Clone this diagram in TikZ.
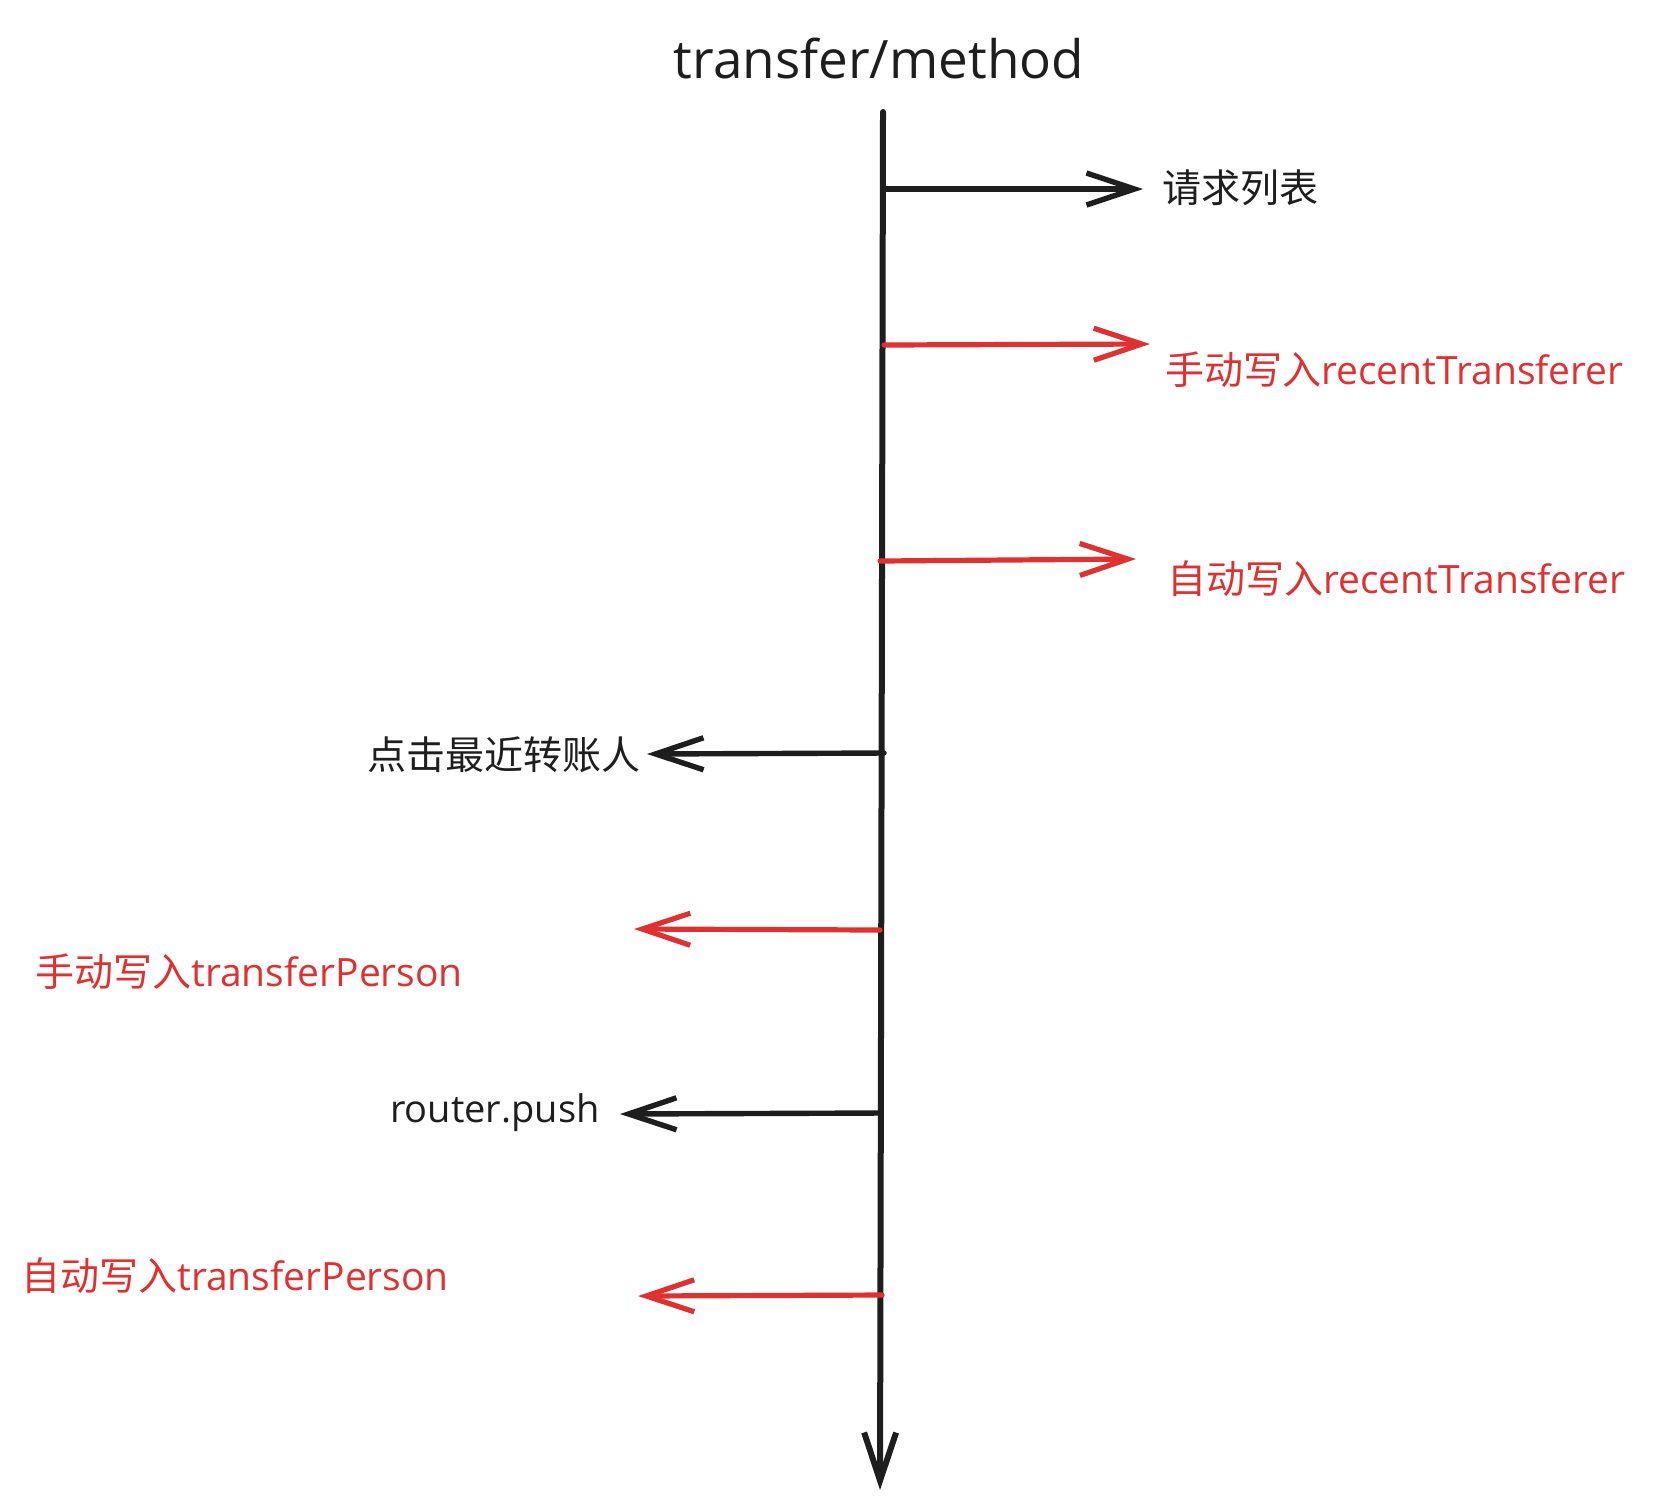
\documentclass[tikz,border=0pt]{standalone}
\usepackage{fontspec}
\setmainfont{Open Sans}
\newfontfamily\cjk{Noto Sans CJK SC}
\usetikzlibrary{arrows.meta}
\definecolor{ink}{HTML}{1E1E1E}
\definecolor{redink}{HTML}{E03131}
\begin{document}
\begin{tikzpicture}[x=0.5pt,y=-0.5pt,line cap=round,line join=round,
  barb/.style={-{Straight Barb[length=24pt,width=16pt]}},
  blackarrow/.style={barb,draw=ink,line width=2.7pt},
  redarrow/.style={barb,draw=redink,line width=2.6pt},
  lab/.style={inner sep=0pt,font=\fontsize{19.5}{24}\selectfont},
  blacklab/.style={lab,text=ink},
  redlab/.style={lab,text=redink},
  titlelab/.style={inner sep=0pt,text=ink,font=\fontsize{26.5}{32}\selectfont}]
\useasboundingbox (0,0) rectangle (1657,1511);
\node[titlelab] (title) at (879,58) {transfer/method};
% main timeline
\coordinate (top) at (883,112);
\coordinate (bot) at (880,1490);
\draw[blackarrow,line width=3pt] (top) -- (bot);
% right side
\coordinate (s1) at (883,189); \coordinate (e1) at (1143,189);
\draw[blackarrow] (s1) -- (e1);
\node[blacklab,anchor=west] (l1) at (1162,188) {\cjk 请求列表};
\coordinate (s2) at (884,345); \coordinate (e2) at (1150,344);
\draw[redarrow] (s2) -- (e2);
\node[redlab,anchor=west] (l2) at (1165,370) {{\cjk 手动写入}recentTransferer};
\coordinate (s3) at (880,561); \coordinate (e3) at (1136,559);
\draw[redarrow] (s3) -- (e3);
\node[redlab,anchor=west] (l3) at (1167,579) {{\cjk 自动写入}recentTransferer};
% left side
\coordinate (s4) at (884,753); \coordinate (e4) at (647,754);
\draw[blackarrow] (s4) -- (e4);
\node[blacklab,anchor=east] (l4) at (641,755) {\cjk 点击最近转账人};
\coordinate (s5) at (880,930); \coordinate (e5) at (634,929);
\draw[redarrow] (s5) -- (e5);
\node[redlab,anchor=west] (l5) at (35,972) {{\cjk 手动写入}transferPerson};
\coordinate (s6) at (880,1113); \coordinate (e6) at (620,1114);
\draw[blackarrow] (s6) -- (e6);
\node[blacklab,anchor=east,font=\fontsize{19}{24}\selectfont] (l6) at (600,1113) {router.push};
\node[redlab,anchor=west] (l7) at (21,1276) {{\cjk 自动写入}transferPerson};
\coordinate (s7) at (882,1295); \coordinate (e7) at (638,1296);
\draw[redarrow] (s7) -- (e7);
\end{tikzpicture}
\end{document}
